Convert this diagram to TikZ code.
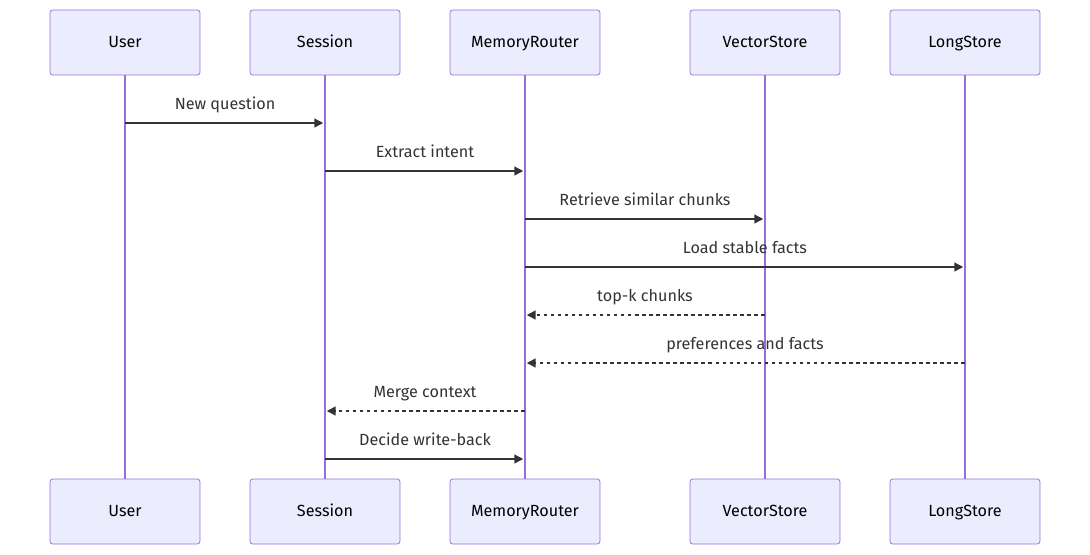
\documentclass[tikz,border=0pt]{standalone}
\usepackage{fontspec}
\setmainfont{Fira Sans}
\usetikzlibrary{arrows.meta}
\definecolor{actfill}{HTML}{ECECFF}
\definecolor{actline}{HTML}{9370DB}
\definecolor{msgline}{HTML}{333333}
\tikzset{
  actor/.style={draw=actline,fill=actfill,rounded corners=1.5pt,minimum width=3cm,minimum height=1.3cm,font=\fontsize{9.2}{11}\selectfont,text=black,text height=1.6ex,text depth=0.45ex},
  life/.style={actline,line width=0.9pt},
  msg/.style={msgline,line width=0.8pt,shorten >=1pt,-{Triangle[length=5pt,width=5pt]}},
  reply/.style={msg,dash pattern=on 2pt off 2pt},
  lbl/.style={font=\fontsize{9.2}{11}\selectfont,text=msgline,above=1.8pt,text height=1.6ex,text depth=0.45ex}
}
\begin{document}
\begin{tikzpicture}[x=0.02cm,y=-0.02cm]
  \useasboundingbox (0,0) rectangle (1090,555);
  % actors, top and bottom
  \foreach \n/\x/\t in {u/125/User,s/325/Session,m/525/MemoryRouter,v/765/VectorStore,l/965/LongStore}{
    \draw[life] (\x,75) -- (\x,479);
    \node[actor] (\n T) at (\x,42.5) {\t};
    \node[actor] (\n B) at (\x,511.5) {\t};
  }
  % messages
  \draw[msg] (uT |- 0,123) -- node[lbl] {New question} (sT |- 0,123);
  \draw[msg] (sT |- 0,171) -- node[lbl] {Extract intent} (mT |- 0,171);
  \draw[msg] (mT |- 0,219) -- node[lbl] {Retrieve similar chunks} (vT |- 0,219);
  \draw[msg] (mT |- 0,267) -- node[lbl] {Load stable facts} (lT |- 0,267);
  \draw[reply] (vT |- 0,315) -- node[lbl] {top-k chunks} (mT |- 0,315);
  \draw[reply] (lT |- 0,363) -- node[lbl] {preferences and facts} (mT |- 0,363);
  \draw[reply] (mT |- 0,411) -- node[lbl] {Merge context} (sT |- 0,411);
  \draw[msg] (sT |- 0,459) -- node[lbl] {Decide write-back} (mT |- 0,459);
\end{tikzpicture}
\end{document}
